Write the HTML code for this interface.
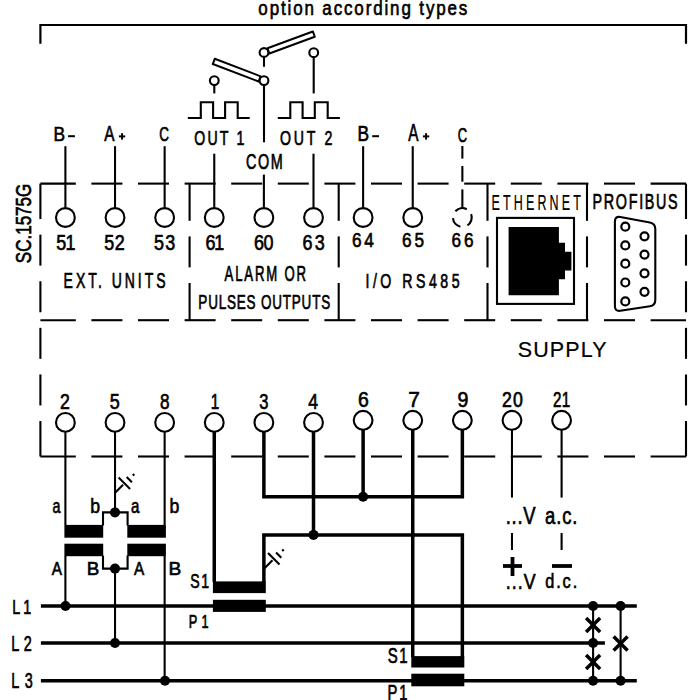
<!DOCTYPE html>
<html><head><meta charset="utf-8"><style>
html,body{margin:0;padding:0;background:#fff;}
svg{display:block;}
text{font-family:"Liberation Sans",sans-serif;fill:#000;stroke:#000;}
</style></head><body>
<svg width="700" height="700" viewBox="0 0 700 700">
<rect width="700" height="700" fill="#fff"/>
<g stroke="#000" fill="none">
<polyline points="40.40,43.80 40.40,25.00 686.00,25.00 686.00,43.80" fill="none" stroke-width="2.2" stroke-linejoin="miter"/>
<line x1="40.40" y1="183.60" x2="75.80" y2="183.60" stroke-width="2.1" stroke-linecap="butt"/>
<line x1="91.40" y1="183.60" x2="122.40" y2="183.60" stroke-width="2.1" stroke-linecap="butt"/>
<line x1="138.00" y1="183.60" x2="169.00" y2="183.60" stroke-width="2.1" stroke-linecap="butt"/>
<line x1="184.60" y1="183.60" x2="215.60" y2="183.60" stroke-width="2.1" stroke-linecap="butt"/>
<line x1="231.20" y1="183.60" x2="262.20" y2="183.60" stroke-width="2.1" stroke-linecap="butt"/>
<line x1="277.80" y1="183.60" x2="308.80" y2="183.60" stroke-width="2.1" stroke-linecap="butt"/>
<line x1="324.40" y1="183.60" x2="355.40" y2="183.60" stroke-width="2.1" stroke-linecap="butt"/>
<line x1="371.00" y1="183.60" x2="402.00" y2="183.60" stroke-width="2.1" stroke-linecap="butt"/>
<line x1="417.60" y1="183.60" x2="448.60" y2="183.60" stroke-width="2.1" stroke-linecap="butt"/>
<line x1="464.20" y1="183.60" x2="495.20" y2="183.60" stroke-width="2.1" stroke-linecap="butt"/>
<line x1="510.80" y1="183.60" x2="541.80" y2="183.60" stroke-width="2.1" stroke-linecap="butt"/>
<line x1="557.40" y1="183.60" x2="588.40" y2="183.60" stroke-width="2.1" stroke-linecap="butt"/>
<line x1="604.00" y1="183.60" x2="635.00" y2="183.60" stroke-width="2.1" stroke-linecap="butt"/>
<line x1="650.60" y1="183.60" x2="686.00" y2="183.60" stroke-width="2.1" stroke-linecap="butt"/>
<line x1="40.40" y1="320.20" x2="75.80" y2="320.20" stroke-width="2.1" stroke-linecap="butt"/>
<line x1="91.40" y1="320.20" x2="122.40" y2="320.20" stroke-width="2.1" stroke-linecap="butt"/>
<line x1="138.00" y1="320.20" x2="169.00" y2="320.20" stroke-width="2.1" stroke-linecap="butt"/>
<line x1="184.60" y1="320.20" x2="215.60" y2="320.20" stroke-width="2.1" stroke-linecap="butt"/>
<line x1="231.20" y1="320.20" x2="262.20" y2="320.20" stroke-width="2.1" stroke-linecap="butt"/>
<line x1="277.80" y1="320.20" x2="308.80" y2="320.20" stroke-width="2.1" stroke-linecap="butt"/>
<line x1="324.40" y1="320.20" x2="355.40" y2="320.20" stroke-width="2.1" stroke-linecap="butt"/>
<line x1="371.00" y1="320.20" x2="402.00" y2="320.20" stroke-width="2.1" stroke-linecap="butt"/>
<line x1="417.60" y1="320.20" x2="448.60" y2="320.20" stroke-width="2.1" stroke-linecap="butt"/>
<line x1="464.20" y1="320.20" x2="495.20" y2="320.20" stroke-width="2.1" stroke-linecap="butt"/>
<line x1="510.80" y1="320.20" x2="541.80" y2="320.20" stroke-width="2.1" stroke-linecap="butt"/>
<line x1="557.40" y1="320.20" x2="588.40" y2="320.20" stroke-width="2.1" stroke-linecap="butt"/>
<line x1="604.00" y1="320.20" x2="635.00" y2="320.20" stroke-width="2.1" stroke-linecap="butt"/>
<line x1="650.60" y1="320.20" x2="686.00" y2="320.20" stroke-width="2.1" stroke-linecap="butt"/>
<line x1="40.40" y1="456.50" x2="75.80" y2="456.50" stroke-width="2.1" stroke-linecap="butt"/>
<line x1="91.40" y1="456.50" x2="122.40" y2="456.50" stroke-width="2.1" stroke-linecap="butt"/>
<line x1="138.00" y1="456.50" x2="169.00" y2="456.50" stroke-width="2.1" stroke-linecap="butt"/>
<line x1="184.60" y1="456.50" x2="215.60" y2="456.50" stroke-width="2.1" stroke-linecap="butt"/>
<line x1="231.20" y1="456.50" x2="262.20" y2="456.50" stroke-width="2.1" stroke-linecap="butt"/>
<line x1="277.80" y1="456.50" x2="308.80" y2="456.50" stroke-width="2.1" stroke-linecap="butt"/>
<line x1="324.40" y1="456.50" x2="355.40" y2="456.50" stroke-width="2.1" stroke-linecap="butt"/>
<line x1="371.00" y1="456.50" x2="402.00" y2="456.50" stroke-width="2.1" stroke-linecap="butt"/>
<line x1="417.60" y1="456.50" x2="448.60" y2="456.50" stroke-width="2.1" stroke-linecap="butt"/>
<line x1="464.20" y1="456.50" x2="495.20" y2="456.50" stroke-width="2.1" stroke-linecap="butt"/>
<line x1="510.80" y1="456.50" x2="541.80" y2="456.50" stroke-width="2.1" stroke-linecap="butt"/>
<line x1="557.40" y1="456.50" x2="588.40" y2="456.50" stroke-width="2.1" stroke-linecap="butt"/>
<line x1="604.00" y1="456.50" x2="635.00" y2="456.50" stroke-width="2.1" stroke-linecap="butt"/>
<line x1="650.60" y1="456.50" x2="686.00" y2="456.50" stroke-width="2.1" stroke-linecap="butt"/>
<line x1="40.40" y1="183.60" x2="40.40" y2="219.05" stroke-width="2.1" stroke-linecap="butt"/>
<line x1="40.40" y1="234.65" x2="40.40" y2="265.65" stroke-width="2.1" stroke-linecap="butt"/>
<line x1="40.40" y1="281.25" x2="40.40" y2="312.25" stroke-width="2.1" stroke-linecap="butt"/>
<line x1="40.40" y1="327.85" x2="40.40" y2="358.85" stroke-width="2.1" stroke-linecap="butt"/>
<line x1="40.40" y1="374.45" x2="40.40" y2="405.45" stroke-width="2.1" stroke-linecap="butt"/>
<line x1="40.40" y1="421.05" x2="40.40" y2="456.50" stroke-width="2.1" stroke-linecap="butt"/>
<line x1="686.00" y1="183.60" x2="686.00" y2="219.05" stroke-width="2.1" stroke-linecap="butt"/>
<line x1="686.00" y1="234.65" x2="686.00" y2="265.65" stroke-width="2.1" stroke-linecap="butt"/>
<line x1="686.00" y1="281.25" x2="686.00" y2="312.25" stroke-width="2.1" stroke-linecap="butt"/>
<line x1="686.00" y1="327.85" x2="686.00" y2="358.85" stroke-width="2.1" stroke-linecap="butt"/>
<line x1="686.00" y1="374.45" x2="686.00" y2="405.45" stroke-width="2.1" stroke-linecap="butt"/>
<line x1="686.00" y1="421.05" x2="686.00" y2="456.50" stroke-width="2.1" stroke-linecap="butt"/>
<line x1="189.60" y1="183.60" x2="189.60" y2="220.80" stroke-width="2.1" stroke-linecap="butt"/>
<line x1="189.60" y1="236.40" x2="189.60" y2="267.40" stroke-width="2.1" stroke-linecap="butt"/>
<line x1="189.60" y1="283.00" x2="189.60" y2="320.20" stroke-width="2.1" stroke-linecap="butt"/>
<line x1="338.70" y1="183.60" x2="338.70" y2="220.80" stroke-width="2.1" stroke-linecap="butt"/>
<line x1="338.70" y1="236.40" x2="338.70" y2="267.40" stroke-width="2.1" stroke-linecap="butt"/>
<line x1="338.70" y1="283.00" x2="338.70" y2="320.20" stroke-width="2.1" stroke-linecap="butt"/>
<line x1="487.50" y1="183.60" x2="487.50" y2="220.80" stroke-width="2.1" stroke-linecap="butt"/>
<line x1="487.50" y1="236.40" x2="487.50" y2="267.40" stroke-width="2.1" stroke-linecap="butt"/>
<line x1="487.50" y1="283.00" x2="487.50" y2="320.20" stroke-width="2.1" stroke-linecap="butt"/>
<line x1="587.00" y1="183.60" x2="587.00" y2="220.80" stroke-width="2.1" stroke-linecap="butt"/>
<line x1="587.00" y1="236.40" x2="587.00" y2="267.40" stroke-width="2.1" stroke-linecap="butt"/>
<line x1="587.00" y1="283.00" x2="587.00" y2="320.20" stroke-width="2.1" stroke-linecap="butt"/>
<circle cx="65.40" cy="217.50" r="9.4" fill="none" stroke-width="2.1"/>
<circle cx="115.02" cy="217.50" r="9.4" fill="none" stroke-width="2.1"/>
<circle cx="164.64" cy="217.50" r="9.4" fill="none" stroke-width="2.1"/>
<circle cx="214.26" cy="217.50" r="9.4" fill="none" stroke-width="2.1"/>
<circle cx="263.88" cy="217.50" r="9.4" fill="none" stroke-width="2.1"/>
<circle cx="313.50" cy="217.50" r="9.4" fill="none" stroke-width="2.1"/>
<circle cx="363.12" cy="217.50" r="9.4" fill="none" stroke-width="2.1"/>
<circle cx="412.74" cy="217.50" r="9.4" fill="none" stroke-width="2.1"/>
<path d="M471.14,214.13 A9.4,9.4 0 0 1 467.48,225.38" fill="none" stroke-width="2.1"/>
<path d="M460.41,226.69 A9.4,9.4 0 0 1 452.98,218.16" fill="none" stroke-width="2.1"/>
<path d="M455.37,211.21 A9.4,9.4 0 0 1 466.77,209.20" fill="none" stroke-width="2.1"/>
<line x1="65.40" y1="146.20" x2="65.40" y2="208.10" stroke-width="2.1" stroke-linecap="butt"/>
<line x1="115.02" y1="146.20" x2="115.02" y2="208.10" stroke-width="2.1" stroke-linecap="butt"/>
<line x1="164.64" y1="146.20" x2="164.64" y2="208.10" stroke-width="2.1" stroke-linecap="butt"/>
<line x1="363.12" y1="146.20" x2="363.12" y2="208.10" stroke-width="2.1" stroke-linecap="butt"/>
<line x1="412.74" y1="146.20" x2="412.74" y2="208.10" stroke-width="2.1" stroke-linecap="butt"/>
<line x1="462.36" y1="146.00" x2="462.36" y2="158.60" stroke-width="2.1" stroke-linecap="butt"/>
<line x1="462.36" y1="166.00" x2="462.36" y2="181.70" stroke-width="2.1" stroke-linecap="butt"/>
<line x1="462.36" y1="189.40" x2="462.36" y2="208.10" stroke-width="2.1" stroke-linecap="butt"/>
<line x1="214.26" y1="153.70" x2="214.26" y2="208.10" stroke-width="2.1" stroke-linecap="butt"/>
<line x1="313.50" y1="153.70" x2="313.50" y2="208.10" stroke-width="2.1" stroke-linecap="butt"/>
<line x1="263.88" y1="174.60" x2="263.88" y2="208.10" stroke-width="2.1" stroke-linecap="butt"/>
<circle cx="214.30" cy="80.60" r="4.4" fill="none" stroke-width="2.1"/>
<line x1="214.30" y1="85.00" x2="214.30" y2="93.40" stroke-width="2.1" stroke-linecap="butt"/>
<circle cx="264.00" cy="80.60" r="4.4" fill="none" stroke-width="2.1"/>
<line x1="264.00" y1="85.00" x2="264.00" y2="142.30" stroke-width="2.1" stroke-linecap="butt"/>
<circle cx="264.00" cy="52.50" r="4.4" fill="none" stroke-width="2.1"/>
<line x1="264.00" y1="56.90" x2="264.00" y2="66.80" stroke-width="2.1" stroke-linecap="butt"/>
<circle cx="313.70" cy="52.70" r="4.4" fill="none" stroke-width="2.1"/>
<line x1="313.70" y1="57.10" x2="313.70" y2="93.40" stroke-width="2.1" stroke-linecap="butt"/>
<path d="M212.75,64.02 L258.61,81.54 L260.61,76.31 L214.75,58.78 Z" fill="none" stroke-width="2.0" stroke-linejoin="round"/>
<path d="M312.83,31.47 L267.44,48.24 L269.38,53.50 L314.77,36.73 Z" fill="none" stroke-width="2.0" stroke-linejoin="round"/>
<polyline points="187.80,118.00 200.80,118.00 200.80,102.30 213.10,102.30 213.10,118.00 225.10,118.00 225.10,102.30 237.70,102.30 237.70,118.00 249.70,118.00" fill="none" stroke-width="2.1" stroke-linejoin="miter"/>
<polyline points="277.80,118.00 290.30,118.00 290.30,102.30 302.60,102.30 302.60,118.00 314.80,118.00 314.80,102.30 327.70,102.30 327.70,118.00 339.90,118.00" fill="none" stroke-width="2.1" stroke-linejoin="miter"/>
<rect x="497" y="217.9" width="77" height="86" fill="none" stroke-width="2.1"/>
<path d="M508.6,227.1 H558.9 V242.7 H565 V251.8 H571.4 V270.6 H565 V279.3 H558.9 V295.3 H508.6 Z" fill="#000" stroke="none"/>
<path d="M614.90,221.50 Q614.90,216.00 620.31,216.99 L649.89,222.41 Q655.30,223.40 655.30,228.90 L655.30,299.90 Q655.30,305.40 649.86,306.23 L620.34,310.77 Q614.90,311.60 614.90,306.10 Z" fill="none" stroke-width="2.1"/>
<circle cx="625.30" cy="226.70" r="4.0" fill="none" stroke-width="2.2"/>
<circle cx="625.30" cy="245.40" r="4.0" fill="none" stroke-width="2.2"/>
<circle cx="625.30" cy="263.70" r="4.0" fill="none" stroke-width="2.2"/>
<circle cx="625.30" cy="282.50" r="4.0" fill="none" stroke-width="2.2"/>
<circle cx="625.30" cy="301.40" r="4.0" fill="none" stroke-width="2.2"/>
<circle cx="644.50" cy="236.30" r="4.0" fill="none" stroke-width="2.2"/>
<circle cx="644.50" cy="254.60" r="4.0" fill="none" stroke-width="2.2"/>
<circle cx="644.50" cy="273.30" r="4.0" fill="none" stroke-width="2.2"/>
<circle cx="644.50" cy="291.80" r="4.0" fill="none" stroke-width="2.2"/>
<circle cx="65.40" cy="422.40" r="9.4" fill="none" stroke-width="2.1"/>
<circle cx="115.02" cy="422.40" r="9.4" fill="none" stroke-width="2.1"/>
<circle cx="164.64" cy="422.40" r="9.4" fill="none" stroke-width="2.1"/>
<circle cx="214.26" cy="422.40" r="9.4" fill="none" stroke-width="2.1"/>
<circle cx="263.88" cy="422.40" r="9.4" fill="none" stroke-width="2.1"/>
<circle cx="313.50" cy="422.40" r="9.4" fill="none" stroke-width="2.1"/>
<circle cx="363.12" cy="420.30" r="9.4" fill="none" stroke-width="2.1"/>
<circle cx="412.74" cy="420.30" r="9.4" fill="none" stroke-width="2.1"/>
<circle cx="462.36" cy="420.30" r="9.4" fill="none" stroke-width="2.1"/>
<circle cx="511.98" cy="420.30" r="9.4" fill="none" stroke-width="2.1"/>
<circle cx="561.60" cy="420.30" r="9.4" fill="none" stroke-width="2.1"/>
<line x1="65.40" y1="431.80" x2="65.40" y2="525.00" stroke-width="2.1" stroke-linecap="butt"/>
<line x1="65.40" y1="556.00" x2="65.40" y2="606.00" stroke-width="2.1" stroke-linecap="butt"/>
<line x1="115.02" y1="431.80" x2="115.02" y2="512.40" stroke-width="2.1" stroke-linecap="butt"/>
<line x1="115.02" y1="568.60" x2="115.02" y2="643.00" stroke-width="2.1" stroke-linecap="butt"/>
<line x1="164.64" y1="431.80" x2="164.64" y2="525.00" stroke-width="2.1" stroke-linecap="butt"/>
<line x1="164.64" y1="556.00" x2="164.64" y2="680.70" stroke-width="2.1" stroke-linecap="butt"/>
<rect x="64.40" y="524.90" width="38.80" height="12.80" fill="#000" stroke="none"/>
<rect x="64.40" y="543.70" width="38.80" height="12.50" fill="#000" stroke="none"/>
<rect x="127.30" y="524.90" width="38.60" height="12.80" fill="#000" stroke="none"/>
<rect x="127.30" y="543.70" width="38.60" height="12.50" fill="#000" stroke="none"/>
<polyline points="103.00,525.50 103.00,512.40 127.60,512.40 127.60,525.50" fill="none" stroke-width="2.1" stroke-linejoin="miter"/>
<polyline points="103.00,555.50 103.00,568.60 127.60,568.60 127.60,555.50" fill="none" stroke-width="2.1" stroke-linejoin="miter"/>
<circle cx="115.00" cy="512.40" r="5" fill="#000" stroke="none"/>
<circle cx="115.00" cy="568.60" r="5" fill="#000" stroke="none"/>
<line x1="115.10" y1="492.80" x2="123.10" y2="484.80" stroke-width="2.1" stroke-linecap="butt"/>
<line x1="118.60" y1="477.60" x2="130.10" y2="489.10" stroke-width="2.1" stroke-linecap="butt"/>
<line x1="126.70" y1="477.10" x2="131.90" y2="482.30" stroke-width="2.1" stroke-linecap="butt"/>
<line x1="132.70" y1="475.40" x2="134.40" y2="474.10" stroke-width="2.1" stroke-linecap="butt"/>
<line x1="214.26" y1="431.80" x2="214.26" y2="582.00" stroke-width="3.5" stroke-linecap="butt"/>
<polyline points="263.88,431.80 263.88,496.80 462.36,496.80 462.36,429.70" fill="none" stroke-width="3.5" stroke-linejoin="miter"/>
<line x1="313.50" y1="431.80" x2="313.50" y2="534.90" stroke-width="3.5" stroke-linecap="butt"/>
<polyline points="263.88,582.00 263.88,534.90 462.36,534.90 462.36,657.00" fill="none" stroke-width="3.5" stroke-linejoin="miter"/>
<line x1="363.12" y1="429.70" x2="363.12" y2="496.80" stroke-width="3.5" stroke-linecap="butt"/>
<line x1="412.74" y1="429.70" x2="412.74" y2="657.00" stroke-width="3.5" stroke-linecap="butt"/>
<circle cx="313.50" cy="534.90" r="5" fill="#000" stroke="none"/>
<circle cx="363.12" cy="496.80" r="5" fill="#000" stroke="none"/>
<line x1="264.50" y1="568.30" x2="272.50" y2="560.30" stroke-width="2.1" stroke-linecap="butt"/>
<line x1="268.00" y1="553.10" x2="279.50" y2="564.60" stroke-width="2.1" stroke-linecap="butt"/>
<line x1="276.10" y1="552.60" x2="281.30" y2="557.80" stroke-width="2.1" stroke-linecap="butt"/>
<line x1="282.10" y1="550.90" x2="283.80" y2="549.60" stroke-width="2.1" stroke-linecap="butt"/>
<rect x="212.90" y="581.40" width="52.90" height="11.70" fill="#000" stroke="none"/>
<rect x="212.90" y="599.80" width="52.90" height="12.10" fill="#000" stroke="none"/>
<rect x="411.30" y="656.10" width="53.00" height="11.40" fill="#000" stroke="none"/>
<rect x="411.30" y="673.70" width="53.00" height="12.60" fill="#000" stroke="none"/>
<line x1="511.98" y1="429.70" x2="511.98" y2="497.60" stroke-width="2.1" stroke-linecap="butt"/>
<line x1="511.98" y1="533.00" x2="511.98" y2="550.00" stroke-width="2.1" stroke-linecap="butt"/>
<line x1="561.60" y1="429.70" x2="561.60" y2="497.60" stroke-width="2.1" stroke-linecap="butt"/>
<line x1="561.60" y1="533.00" x2="561.60" y2="550.00" stroke-width="2.1" stroke-linecap="butt"/>
<line x1="503.00" y1="566.00" x2="522.00" y2="566.00" stroke-width="3.8" stroke-linecap="butt"/>
<line x1="512.50" y1="557.00" x2="512.50" y2="576.00" stroke-width="3.8" stroke-linecap="butt"/>
<line x1="552.00" y1="566.00" x2="572.00" y2="566.00" stroke-width="3.8" stroke-linecap="butt"/>
<line x1="40.90" y1="606.00" x2="636.80" y2="606.00" stroke-width="3.5" stroke-linecap="butt"/>
<line x1="40.90" y1="643.00" x2="604.90" y2="643.00" stroke-width="3.5" stroke-linecap="butt"/>
<line x1="40.90" y1="680.70" x2="636.80" y2="680.70" stroke-width="3.5" stroke-linecap="butt"/>
<circle cx="65.50" cy="606.00" r="5" fill="#000" stroke="none"/>
<circle cx="115.00" cy="643.00" r="5" fill="#000" stroke="none"/>
<circle cx="165.00" cy="680.70" r="5" fill="#000" stroke="none"/>
<line x1="593.10" y1="606.00" x2="593.10" y2="680.70" stroke-width="2.1" stroke-linecap="butt"/>
<line x1="620.60" y1="606.00" x2="620.60" y2="680.70" stroke-width="2.1" stroke-linecap="butt"/>
<circle cx="593.10" cy="606.00" r="5" fill="#000" stroke="none"/>
<circle cx="620.60" cy="606.00" r="5" fill="#000" stroke="none"/>
<circle cx="593.10" cy="643.00" r="5" fill="#000" stroke="none"/>
<circle cx="593.10" cy="680.70" r="5" fill="#000" stroke="none"/>
<circle cx="620.60" cy="680.70" r="5" fill="#000" stroke="none"/>
<line x1="586.10" y1="617.90" x2="600.10" y2="631.90" stroke-width="3.5" stroke-linecap="butt"/>
<line x1="586.10" y1="631.90" x2="600.10" y2="617.90" stroke-width="3.5" stroke-linecap="butt"/>
<line x1="586.10" y1="655.00" x2="600.10" y2="669.00" stroke-width="3.5" stroke-linecap="butt"/>
<line x1="586.10" y1="669.00" x2="600.10" y2="655.00" stroke-width="3.5" stroke-linecap="butt"/>
<line x1="613.60" y1="636.40" x2="627.60" y2="650.40" stroke-width="3.5" stroke-linecap="butt"/>
<line x1="613.60" y1="650.40" x2="627.60" y2="636.40" stroke-width="3.5" stroke-linecap="butt"/>
<text transform="translate(258.37,14.60) scale(0.8600,1)" font-size="19.75" letter-spacing="2.166" stroke-width="0.6" vector-effect="non-scaling-stroke">option according types</text>
<text transform="translate(53.44,141.10) scale(0.8253,1)" font-size="21.05" letter-spacing="0.000" stroke-width="0.6" vector-effect="non-scaling-stroke">B</text>
<text transform="translate(357.54,141.20) scale(0.8198,1)" font-size="21.19" letter-spacing="0.000" stroke-width="0.6" vector-effect="non-scaling-stroke">B</text>
<text transform="translate(104.30,140.90) scale(0.6695,1)" font-size="22.90" letter-spacing="0.000" stroke-width="0.6" vector-effect="non-scaling-stroke">A</text>
<text transform="translate(408.30,141.00) scale(0.6654,1)" font-size="23.04" letter-spacing="0.000" stroke-width="0.6" vector-effect="non-scaling-stroke">A</text>
<text transform="translate(159.37,141.40) scale(0.6647,1)" font-size="20.20" letter-spacing="0.000" stroke-width="0.6" vector-effect="non-scaling-stroke">C</text>
<text transform="translate(457.69,141.60) scale(0.6240,1)" font-size="20.76" letter-spacing="0.000" stroke-width="0.6" vector-effect="non-scaling-stroke">C</text>
<text transform="translate(194.24,144.60) scale(0.7000,1)" font-size="20.20" letter-spacing="3.109" stroke-width="0.6" vector-effect="non-scaling-stroke">OUT 1</text>
<text transform="translate(279.94,144.60) scale(0.7000,1)" font-size="20.20" letter-spacing="3.930" stroke-width="0.6" vector-effect="non-scaling-stroke">OUT 2</text>
<text transform="translate(246.02,168.60) scale(0.6800,1)" font-size="21.19" letter-spacing="2.226" stroke-width="0.6" vector-effect="non-scaling-stroke">COM</text>
<text transform="translate(56.14,250.00) scale(0.8200,1)" font-size="21.90" letter-spacing="-0.839" stroke-width="0.6" vector-effect="non-scaling-stroke">51</text>
<text transform="translate(104.14,250.00) scale(0.8200,1)" font-size="21.90" letter-spacing="0.747" stroke-width="0.6" vector-effect="non-scaling-stroke">52</text>
<text transform="translate(154.04,250.00) scale(0.8200,1)" font-size="21.90" letter-spacing="1.600" stroke-width="0.6" vector-effect="non-scaling-stroke">53</text>
<text transform="translate(205.46,250.00) scale(0.8200,1)" font-size="21.90" letter-spacing="-1.594" stroke-width="0.6" vector-effect="non-scaling-stroke">61</text>
<text transform="translate(254.06,250.00) scale(0.8200,1)" font-size="21.90" letter-spacing="-0.595" stroke-width="0.6" vector-effect="non-scaling-stroke">60</text>
<text transform="translate(302.56,250.00) scale(0.8200,1)" font-size="21.90" letter-spacing="2.674" stroke-width="0.6" vector-effect="non-scaling-stroke">63</text>
<text transform="translate(352.09,247.00) scale(0.8200,1)" font-size="21.05" letter-spacing="3.098" stroke-width="0.6" vector-effect="non-scaling-stroke">64</text>
<text transform="translate(401.89,247.00) scale(0.8200,1)" font-size="21.05" letter-spacing="3.549" stroke-width="0.6" vector-effect="non-scaling-stroke">65</text>
<text transform="translate(451.49,247.00) scale(0.8200,1)" font-size="21.05" letter-spacing="3.549" stroke-width="0.6" vector-effect="non-scaling-stroke">66</text>
<text transform="translate(63.60,287.50) scale(0.6200,1)" font-size="22.61" letter-spacing="4.735" stroke-width="0.6" vector-effect="non-scaling-stroke">EXT. UNITS</text>
<text transform="translate(224.60,280.90) scale(0.6200,1)" font-size="21.19" letter-spacing="2.980" stroke-width="0.6" vector-effect="non-scaling-stroke">ALARM OR</text>
<text transform="translate(198.35,309.40) scale(0.6400,1)" font-size="21.05" letter-spacing="1.280" stroke-width="0.6" vector-effect="non-scaling-stroke">PULSES OUTPUTS</text>
<text transform="translate(365.49,287.70) scale(0.6800,1)" font-size="20.83" letter-spacing="5.154" stroke-width="0.6" vector-effect="non-scaling-stroke">I/O RS485</text>
<text transform="translate(491.62,210.00) scale(0.5500,1)" font-size="22.76" letter-spacing="5.648" stroke-width="0.2" vector-effect="non-scaling-stroke">ETHERNET</text>
<text transform="translate(592.58,209.30) scale(0.6600,1)" font-size="21.76" letter-spacing="2.535" stroke-width="0.6" vector-effect="non-scaling-stroke">PROFIBUS</text>
<text transform="translate(517.73,356.60) scale(1.0000,1)" font-size="21.48" letter-spacing="1.149" stroke-width="0.2" vector-effect="non-scaling-stroke">SUPPLY</text>
<text transform="translate(59.97,408.80) scale(0.8137,1)" font-size="21.76" letter-spacing="0.000" stroke-width="0.6" vector-effect="non-scaling-stroke">2</text>
<text transform="translate(109.84,408.80) scale(0.8254,1)" font-size="21.76" letter-spacing="0.000" stroke-width="0.6" vector-effect="non-scaling-stroke">5</text>
<text transform="translate(159.96,408.80) scale(0.7875,1)" font-size="21.76" letter-spacing="0.000" stroke-width="0.6" vector-effect="non-scaling-stroke">8</text>
<text transform="translate(210.75,408.80) scale(0.6998,1)" font-size="21.76" letter-spacing="0.000" stroke-width="0.6" vector-effect="non-scaling-stroke">1</text>
<text transform="translate(259.18,408.80) scale(0.7590,1)" font-size="21.76" letter-spacing="0.000" stroke-width="0.6" vector-effect="non-scaling-stroke">3</text>
<text transform="translate(308.32,408.80) scale(0.8111,1)" font-size="21.76" letter-spacing="0.000" stroke-width="0.6" vector-effect="non-scaling-stroke">4</text>
<text transform="translate(357.99,406.60) scale(0.8980,1)" font-size="21.62" letter-spacing="0.000" stroke-width="0.6" vector-effect="non-scaling-stroke">6</text>
<text transform="translate(408.22,406.60) scale(0.9671,1)" font-size="21.62" letter-spacing="0.000" stroke-width="0.6" vector-effect="non-scaling-stroke">7</text>
<text transform="translate(457.48,406.60) scale(0.9079,1)" font-size="21.62" letter-spacing="0.000" stroke-width="0.6" vector-effect="non-scaling-stroke">9</text>
<text transform="translate(501.97,406.60) scale(0.8200,1)" font-size="21.62" letter-spacing="1.531" stroke-width="0.6" vector-effect="non-scaling-stroke">20</text>
<text transform="translate(552.99,406.60) scale(0.7000,1)" font-size="21.62" letter-spacing="0.415" stroke-width="0.6" vector-effect="non-scaling-stroke">21</text>
<text transform="translate(52.55,512.60) scale(0.7381,1)" font-size="19.38" letter-spacing="0.000" stroke-width="0.6" vector-effect="non-scaling-stroke">a</text>
<text transform="translate(90.30,512.60) scale(0.8880,1)" font-size="19.88" letter-spacing="0.000" stroke-width="0.6" vector-effect="non-scaling-stroke">b</text>
<text transform="translate(130.93,512.60) scale(0.7769,1)" font-size="19.38" letter-spacing="0.000" stroke-width="0.6" vector-effect="non-scaling-stroke">a</text>
<text transform="translate(169.50,512.60) scale(0.8880,1)" font-size="19.88" letter-spacing="0.000" stroke-width="0.6" vector-effect="non-scaling-stroke">b</text>
<text transform="translate(51.70,575.30) scale(0.8105,1)" font-size="18.92" letter-spacing="0.000" stroke-width="0.6" vector-effect="non-scaling-stroke">A</text>
<text transform="translate(86.83,575.30) scale(1.0187,1)" font-size="18.49" letter-spacing="0.000" stroke-width="0.6" vector-effect="non-scaling-stroke">B</text>
<text transform="translate(134.00,575.30) scale(0.8105,1)" font-size="18.92" letter-spacing="0.000" stroke-width="0.6" vector-effect="non-scaling-stroke">A</text>
<text transform="translate(168.40,575.30) scale(1.0385,1)" font-size="18.49" letter-spacing="0.000" stroke-width="0.6" vector-effect="non-scaling-stroke">B</text>
<text transform="translate(190.16,588.30) scale(0.6800,1)" font-size="20.76" letter-spacing="2.563" stroke-width="0.6" vector-effect="non-scaling-stroke">S1</text>
<text transform="translate(188.70,627.70) scale(0.6800,1)" font-size="18.77" letter-spacing="6.177" stroke-width="0.6" vector-effect="non-scaling-stroke">P1</text>
<text transform="translate(387.83,663.40) scale(0.6800,1)" font-size="22.04" letter-spacing="2.119" stroke-width="0.6" vector-effect="non-scaling-stroke">S1</text>
<text transform="translate(387.44,699.60) scale(0.6800,1)" font-size="21.76" letter-spacing="2.878" stroke-width="0.6" vector-effect="non-scaling-stroke">P1</text>
<text transform="translate(12.28,613.90) scale(0.6800,1)" font-size="21.05" letter-spacing="4.379" stroke-width="0.6" vector-effect="non-scaling-stroke">L1</text>
<text transform="translate(11.17,651.30) scale(0.6800,1)" font-size="21.19" letter-spacing="6.590" stroke-width="0.6" vector-effect="non-scaling-stroke">L2</text>
<text transform="translate(11.17,688.20) scale(0.6800,1)" font-size="21.19" letter-spacing="8.208" stroke-width="0.6" vector-effect="non-scaling-stroke">L3</text>
<text transform="translate(505.66,524.00) scale(0.8000,1)" font-size="23.04" letter-spacing="0.955" stroke-width="0.6" vector-effect="non-scaling-stroke">...V</text>
<text transform="translate(545.12,524.00) scale(0.8000,1)" font-size="23.04" letter-spacing="1.055" stroke-width="0.6" vector-effect="non-scaling-stroke">a.c.</text>
<text transform="translate(505.71,588.60) scale(0.8000,1)" font-size="22.19" letter-spacing="1.361" stroke-width="0.6" vector-effect="non-scaling-stroke">...V</text>
<text transform="translate(545.19,588.00) scale(0.8000,1)" font-size="20.43" letter-spacing="2.354" stroke-width="0.6" vector-effect="non-scaling-stroke">d.c.</text>
<line x1="68.10" y1="136.20" x2="74.90" y2="136.20" stroke-width="2.0" stroke-linecap="butt"/>
<line x1="372.20" y1="136.20" x2="379.00" y2="136.20" stroke-width="2.0" stroke-linecap="butt"/>
<line x1="118.90" y1="136.40" x2="125.20" y2="136.40" stroke-width="2.0" stroke-linecap="butt"/>
<line x1="122.05" y1="133.20" x2="122.05" y2="139.60" stroke-width="2.0" stroke-linecap="butt"/>
<line x1="422.90" y1="136.40" x2="429.20" y2="136.40" stroke-width="2.0" stroke-linecap="butt"/>
<line x1="426.05" y1="133.20" x2="426.05" y2="139.60" stroke-width="2.0" stroke-linecap="butt"/>
<text transform="translate(30.60,263.13) rotate(-90) scale(0.8000,1)" font-size="21.33" letter-spacing="-0.033" stroke-width="0.6" vector-effect="non-scaling-stroke">SC.1575G</text>
</g>
</svg>
</body></html>
